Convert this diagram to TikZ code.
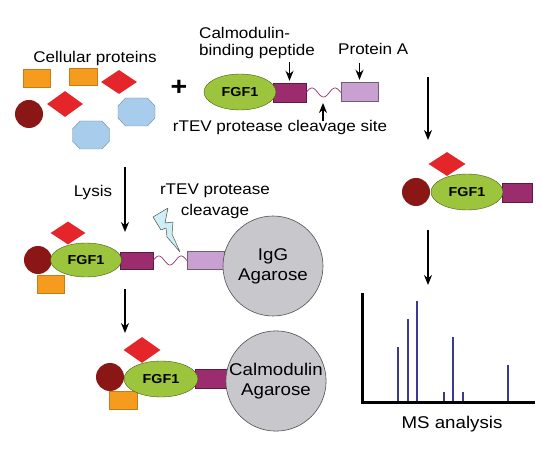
\documentclass[tikz,border=0pt]{standalone}
\usepackage{fontspec}
\setmainfont{Liberation Sans}[FakeStretch=1.1]
\usepackage{xcolor}
\usetikzlibrary{arrows.meta,positioning,calc,shapes.geometric}
\definecolor{fgfgreen}{HTML}{9CC43C}
\definecolor{fgfline}{HTML}{3F5F14}
\definecolor{cbpmag}{HTML}{9B2C6E}
\definecolor{protlilac}{HTML}{C8A0D2}
\definecolor{protline}{HTML}{6E6070}
\definecolor{orangep}{HTML}{F59C1E}
\definecolor{redp}{HTML}{E4262A}
\definecolor{darkredp}{HTML}{8A1616}
\definecolor{octblue}{HTML}{A8CCEB}
\definecolor{octline}{HTML}{6C88A8}
\definecolor{beadgray}{HTML}{C8C8CC}
\definecolor{beadline}{HTML}{505050}
\definecolor{boltcyan}{HTML}{CDEFF5}
\definecolor{peakblue}{HTML}{3C3A8E}
\begin{document}
\begin{tikzpicture}[x=1pt,y=-1pt,>={Stealth[length=10pt,width=8pt]},font=\fontsize{15.5}{16.5}\selectfont,
  fgf/.style={ellipse,draw=fgfline,fill=fgfgreen,minimum width=72pt,minimum height=36pt,inner sep=0pt,font=\fontsize{13}{15}\selectfont\bfseries},
  cbpbox/.style={rectangle,draw=cbpmag!60!black,line width=0.4pt,fill=cbpmag,minimum width=33pt,minimum height=19pt,inner sep=0pt},
  protbox/.style={rectangle,draw=protline,line width=0.4pt,fill=protlilac,minimum width=37pt,minimum height=19pt,inner sep=0pt},
  orbox/.style={rectangle,draw=orangep!80!black,line width=0.3pt,fill=orangep,minimum width=27pt,minimum height=18pt,inner sep=0pt},
  reddia/.style={diamond,fill=redp,minimum width=36pt,minimum height=24pt,shape aspect=1.5,inner sep=0pt},
  ball/.style={circle,fill=darkredp,minimum size=28pt,inner sep=0pt},
  octo/.style={draw=octline,line width=0.4pt,fill=octblue,line join=round},
  bead/.style={circle,draw=beadline,line width=0.6pt,fill=beadgray,inner sep=0pt,align=center,font=\fontsize{17}{20}\selectfont},
  flow/.style={->,line width=1.6pt},
  linker/.style={draw=cbpmag,line width=0.7pt},
  peak/.style={draw=peakblue,line width=2pt}]
  \useasboundingbox (0,0) rectangle (541,462);

  % cellular proteins
  \node[anchor=base] (cellular) at (95,63) {Cellular proteins};
  \node[orbox] (or1) at (36.5,78) {};
  \node[orbox,minimum width=28pt,minimum height=17pt] (or2) at (83,76.5) {};
  \node[reddia] (rd1) at (119,82) {};
  \node[reddia,minimum height=26pt,shape aspect=1.35] (rd2) at (65,104) {};
  \node[ball] (dr1) at (29,114) {};
  \foreach \x/\y in {136.5/112,91/135}
    \draw[octo] (\x-18.5,\y-6) -- (\x-11,\y-14) -- (\x+11,\y-14) -- (\x+18.5,\y-6)
      -- (\x+18.5,\y+6) -- (\x+11,\y+14) -- (\x-11,\y+14) -- (\x-18.5,\y+6) -- cycle;
  \node[font=\fontsize{26}{26}\selectfont\bfseries] (plus) at (179,88) {+};

  % tagged bait construct
  \node[cbpbox] (cbp) at (289.5,92.5) {};
  \node[fgf] (fgf) at (240,92) {FGF1};
  \node[protbox] (prota) at (359.5,91.5) {};
  \node[anchor=north west,align=left,inner sep=0pt] (cbplab) at (199,27.5) {Calmodulin-\\binding peptide};
  \node[anchor=base west,inner sep=0pt] (protlab) at (338,55) {Protein A};
  \node[anchor=base] (sitelab) at (280,132) {rTEV protease cleavage site};
  \coordinate (cbpA) at (cbp.north |- 0,62);
  \coordinate (protA) at (prota.north |- 0,63);
  \coordinate (siteA) at (323,121);
  \coordinate (siteB) at (323,103);
  \draw[flow] (cbpA) -- ([yshift=2pt]cbp.north);
  \draw[flow] (protA) -- ([yshift=2pt]prota.north);
  \draw[flow] (siteA) -- (siteB);

  % lysis, bound to IgG agarose
  \coordinate (lysA) at (125,167);
  \coordinate (lysB) at (125,232);
  \draw[flow] (lysA) -- (lysB);
  \node[anchor=base] (lysis) at (93,197) {Lysis};
  \node[anchor=north,align=center,inner sep=0pt,font=\fontsize{15.5}{21}\selectfont] (tevlab) at (215,183.5) {rTEV protease\\cleavage};
  \node[orbox] (or3) at (50.5,284) {};
  \node[reddia,minimum width=35pt,minimum height=23pt,shape aspect=1.5] (rd3) at (68,233) {};
  \node[ball] (dr3) at (38,260) {};
  \node[cbpbox,minimum height=17pt] (cbp2) at (136.5,260.5) {};
  \node[fgf,minimum width=71pt,minimum height=34pt] (fgf2) at (86,260) {FGF1};
  \node[protbox,minimum height=18pt] (prota2) at (205.5,260) {};
  \node[bead,minimum size=100pt] (igg) at (273,266) {IgG\\Agarose};

  % rTEV linkers
  \foreach \a/\b in {cbp/prota,cbp2/prota2}
    \draw[linker] let \p1=(\a.east), \p2=(\b.west) in
      plot[variable=\t,domain=0:1,samples=50,smooth] ({\x1+\t*(\x2-\x1)},{\y1+4.5*sin(540*\t)});
  \draw[draw=beadline,line width=0.5pt,fill=boltcyan,line join=round]
    (153,217) -- (168,208) -- (165,223) -- (173,222) -- (172,234) -- (180,252)
    -- (167,237) -- (166,228) -- (161,230) -- cycle;

  % bound to calmodulin agarose
  \coordinate (calA) at (125,289);
  \coordinate (calB) at (125,333);
  \draw[flow] (calA) -- (calB);
  \node[orbox,minimum width=28pt] (or4) at (123,400) {};
  \node[reddia,minimum width=37pt,minimum height=26pt,shape aspect=1.42] (rd4) at (142,350) {};
  \node[ball] (dr4) at (110,377) {};
  \node[cbpbox] (cbp3) at (211.5,378.5) {};
  \node[fgf,minimum width=74pt] (fgf3) at (161,379) {FGF1};
  \node[bead,minimum size=98pt] (calm) at (276,381) {Calmodulin\\Agarose};

  % eluted complex
  \coordinate (eluA) at (428,77);
  \coordinate (eluB) at (428,140);
  \draw[flow] (eluA) -- (eluB);
  \node[reddia,minimum width=37pt] (rd5) at (447,164) {};
  \node[ball] (dr5) at (416,192) {};
  \node[cbpbox,minimum width=30pt] (cbp4) at (517,192.5) {};
  \node[fgf] (fgf4) at (467,192) {FGF1};
  \coordinate (msA) at (428,230);
  \coordinate (msB) at (428,285);
  \draw[flow] (msA) -- (msB);

  % MS spectrum
  \foreach \px/\py in {398/347,408/319,417/301,444/392,453/337,463/392,508/365}
    \draw[peak] (\px,402) -- (\px,\py);
  \draw[line width=3pt] (362,293) -- (362,402) -- (535,402);
  \node[anchor=base,font=\fontsize{17}{20}\selectfont] (mslab) at (452,428) {MS analysis};
\end{tikzpicture}
\end{document}
